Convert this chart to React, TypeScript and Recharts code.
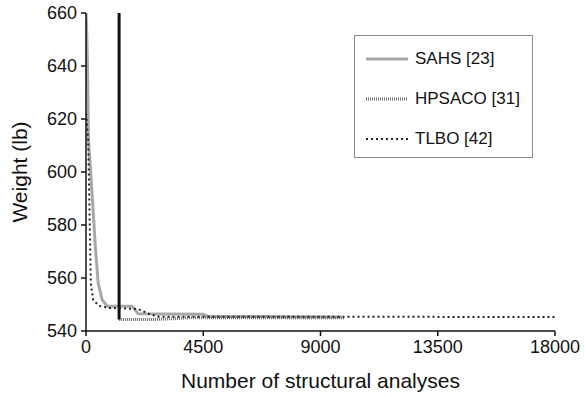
import { LineChart, Line, XAxis, YAxis } from 'recharts';

// SAHS [23]
const sahsX = [0, 20, 58, 96, 250, 365, 468, 622, 825, 1770, 2000, 4500, 4700, 9800];
const sahsY = [660, 655, 640, 612, 589.4, 570.6, 558, 551.7, 549.3, 549.3, 546.5, 546.3, 545.5, 545.3];

// HPSACO [31]
const hpsacoJumpX = [1270, 1270];
const hpsacoJumpY = [660, 544.3];
const hpsacoX = [1270, 2500, 3500, 4000, 9900];
const hpsacoY = [544.3, 544.3, 544.7, 545, 545];

// TLBO [42]
const tlboX = [0, 85, 185, 276, 500, 900, 2000, 2400, 2800, 18000];
const tlboY = [622, 612, 558, 551.7, 549.5, 548.7, 548.3, 546.5, 545.4, 545.3];

const xTicks = [0, 4500, 9000, 13500, 18000];
const yTicks = [540, 560, 580, 600, 620, 640, 660];

const zip = (xs: number[], ys: number[]) => xs.map((x, i) => ({ x, y: ys[i] }));

const legendItems = [
    { name: 'SAHS [23]', stroke: '#a8a8a8', dash: undefined, width: 3 },
    { name: 'HPSACO [31]', stroke: '#6e6e6e', dash: '1 1', width: 3 },
    { name: 'TLBO [42]', stroke: '#222', dash: '2 3', width: 2 },
];

const font = '"Liberation Sans", Arial, sans-serif';

function LegendBox() {
    return (
        <div style={{ position: 'absolute', left: 354, top: 35, border: '1px solid #8a8a8a', width: 179, height: 123, boxSizing: 'border-box', background: '#fff', paddingTop: 3 }}>
            {legendItems.map((it) => (
                <div key={it.name} style={{ display: 'flex', alignItems: 'center', height: 40, paddingLeft: 11 }}>
                    <svg width={42} height={6}>
                        <line x1={0} y1={3} x2={42} y2={3} stroke={it.stroke} strokeWidth={it.width} strokeDasharray={it.dash} />
                    </svg>
                    <span style={{ fontFamily: font, fontSize: 17, color: '#111', marginLeft: 7 }}>{it.name}</span>
                </div>
            ))}
        </div>
    );
}

export default function App() {
    return (
        <div style={{ position: 'absolute', left: 0, top: 0, width: 586, height: 397, background: '#fff' }}>
            <LineChart width={586} height={397} margin={{ top: 13, right: 31, left: 0, bottom: 0 }}>
                <XAxis
                    type="number"
                    dataKey="x"
                    domain={[0, 18000]}
                    ticks={xTicks}
                    height={66}
                    tickSize={5}
                    tickMargin={4}
                    stroke="#111"
                    strokeWidth={1.5}
                    tick={{ fill: '#111', fontSize: 18, fontFamily: font }}
                    label={{ value: 'Number of structural analyses', position: 'insideBottom', offset: 9, fill: '#111', fontSize: 21, fontFamily: font }}
                    allowDataOverflow
                />
                <YAxis
                    type="number"
                    dataKey="y"
                    domain={[540, 660]}
                    ticks={yTicks}
                    width={86}
                    tickSize={5}
                    tickMargin={4}
                    stroke="#111"
                    strokeWidth={1.5}
                    tick={{ fill: '#111', fontSize: 18, fontFamily: font }}
                    label={{ value: 'Weight (lb)', angle: -90, position: 'insideLeft', offset: 20, fill: '#111', fontSize: 21, fontFamily: font, style: { textAnchor: 'middle' } }}
                    allowDataOverflow
                />
                <Line data={zip(sahsX, sahsY)} dataKey="y" name="SAHS [23]" stroke="#a8a8a8" strokeWidth={3} dot={false} isAnimationActive={false} />
                <Line data={zip(hpsacoX, hpsacoY)} dataKey="y" name="HPSACO [31]" stroke="#6e6e6e" strokeWidth={3} strokeDasharray="1 1" dot={false} isAnimationActive={false} />
                <Line data={zip(hpsacoJumpX, hpsacoJumpY)} dataKey="y" name="HPSACO jump" stroke="#111" strokeWidth={3} dot={false} isAnimationActive={false} />
                <Line data={zip(tlboX, tlboY)} dataKey="y" name="TLBO [42]" stroke="#222" strokeWidth={2} strokeDasharray="2 3" dot={false} isAnimationActive={false} />
            </LineChart>
            <LegendBox />
        </div>
    );
}
